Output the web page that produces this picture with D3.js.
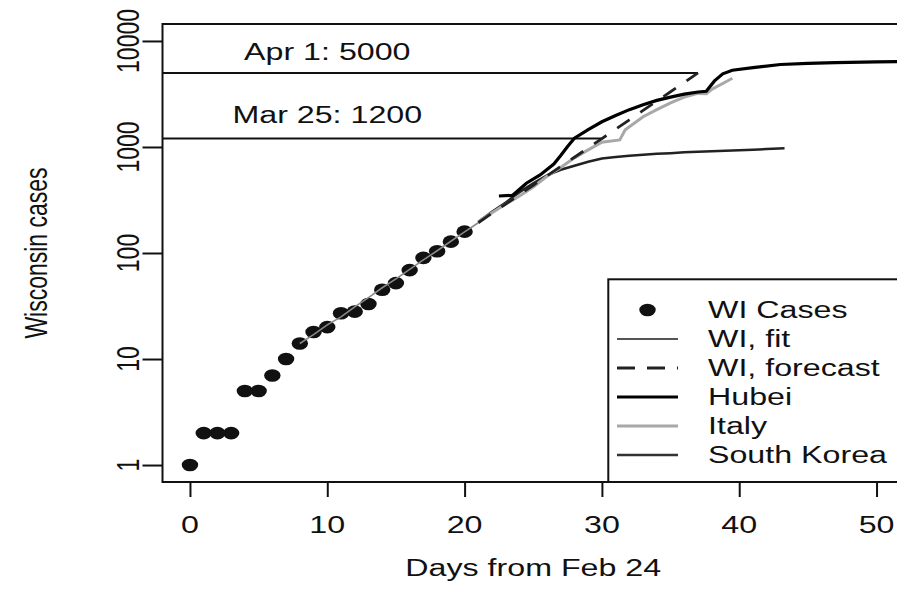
<!DOCTYPE html>
<html><head><meta charset="utf-8">
<script src="https://cdn.jsdelivr.net/npm/d3@7"></script>
<style>html,body{margin:0;padding:0;background:#fff;} svg{display:block;}</style>
</head><body>
<svg id="chart" width="897" height="598"></svg>
<script>
// ---------------- data ----------------
const caseDays   = [0,1,2,3,4,5,6,7,8,9,10,11,12,13,14,15,16,17,18,19,20];
const caseValues = [1,2,2,2,5,5,7,10,14,18,20,27,28,33,45,52,69,90,104,128,159];

const fitDays   = [8,9,10,11,12,13,14,15,16,17,18,19,20,21];
const fitValues = [14,17,21,25,31,38,47,57,70,86,105,129,158,193];

const forecastDays   = [21,22,23,24,25,26,27,28,29,30,31,32,33,34,35,36,37];
const forecastValues = [193,237,290,355,435,535,655,800,980,1200,1470,1800,2210,2710,3320,4070,5000];

const hubeiDays   = [22.5,23.5,24.5,25.5,26.5,27,27.5,28,29,30,31,32,33,34,35,36,37,37.6,38.2,38.8,39.5,41,43,45,47,50,53];
const hubeiValues = [345,350,455,545,690,830,1010,1210,1460,1730,1980,2250,2500,2750,2950,3150,3300,3350,4200,4900,5300,5600,6000,6150,6250,6350,6420];

const italyDays   = [21,22,23,24,25,26,27,28,29,30,31.3,31.7,33,34,35,36,37,37.6,38,39,39.5];
const italyValues = [197,240,290,345,420,530,640,790,940,1110,1165,1450,1930,2250,2600,2950,3200,3180,3500,4100,4450];

const koreaDays   = [21,22,23,24,25,26,27,28,29,30,31,32,33,34,35,36,37,38,39,40,41,42,43.3];
const koreaValues = [197,245,300,375,455,540,610,665,725,780,805,825,845,862,875,890,900,910,920,932,942,955,972];

const refValues  = [5000, 1200];
const refEndDays = [37, 30];
const noteDays   = [10, 10];
const noteValues = [8000, 2000];
const noteLabels = ["Apr 1: 5000", "Mar 25: 1200"];

const xTicks = [0,10,20,30,40,50];
const yTicks = [1,10,100,1000,10000];
const yTickLabels = ["1","10","100","1000","10000"];
const legendLabels = ["WI Cases","WI, fit","WI, forecast","Hubei","Italy","South Korea"];
const xTitle = "Days from Feb 24";
const yTitle = "Wisconsin cases";

// ---------------- layout ----------------
const FONT = "'Liberation Sans', Arial, Helvetica, sans-serif";
const FS = 23, SX = 1.4;
const P = {left:162.5, right:904, top:24, bottom:482};

const svg = d3.select("#chart");
svg.append("rect").attr("width",897).attr("height",598).attr("fill","#fff");

const x = d3.scaleLinear().domain([-2,52]).range([P.left, P.right]);
const y = d3.scaleLog().domain([Math.pow(10,-0.16), Math.pow(10,4.16)]).range([P.bottom, P.top]);

svg.append("clipPath").attr("id","clip").append("rect")
  .attr("x",P.left).attr("y",P.top).attr("width",P.right-P.left).attr("height",P.bottom-P.top);

function sText(parent, px, py, str, anchor, rot) {
  const t = parent.append("text")
    .attr("transform", `translate(${px},${py}) scale(${SX},1)` + (rot ? " rotate(-90)" : ""))
    .attr("text-anchor", anchor || "middle")
    .attr("dy","0.36em")
    .attr("font-family", FONT).attr("font-size", FS).attr("fill","#111")
    .text(str);
  return t;
}

const plotG = svg.append("g").attr("clip-path","url(#clip)");

// reference lines
refValues.forEach((v,i) => {
  plotG.append("line")
    .attr("x1", x(-2)).attr("x2", x(refEndDays[i]))
    .attr("y1", y(v)).attr("y2", y(v))
    .attr("stroke","#111").attr("stroke-width",2);
});
noteLabels.forEach((s,i) => sText(svg, x(noteDays[i]), y(noteValues[i]), s, "middle"));

const line = d3.line().x(d => x(d[0])).y(d => y(d[1]));
const zip = (a,b) => a.map((d,i) => [d, b[i]]);

plotG.append("path").datum(zip(koreaDays,koreaValues)).attr("d",line)
  .attr("fill","none").attr("stroke","#222").attr("stroke-width",2.5);
plotG.append("path").datum(zip(italyDays,italyValues)).attr("d",line)
  .attr("fill","none").attr("stroke","#a8a8a8").attr("stroke-width",3);
plotG.append("path").datum(zip(hubeiDays,hubeiValues)).attr("d",line)
  .attr("fill","none").attr("stroke","#000").attr("stroke-width",3.2);
plotG.append("path").datum(zip(forecastDays,forecastValues)).attr("d",line)
  .attr("fill","none").attr("stroke","#222").attr("stroke-width",2.8).attr("stroke-dasharray","15,13");

// points
plotG.selectAll("ellipse.pt").data(zip(caseDays,caseValues)).join("ellipse")
  .attr("class","pt").attr("cx",d=>x(d[0])).attr("cy",d=>y(d[1]))
  .attr("rx",8.2).attr("ry",6.3).attr("fill","#111");

plotG.append("path").datum(zip(fitDays,fitValues)).attr("d",line)
  .attr("fill","none").attr("stroke","#888").attr("stroke-width",1.6);

// axes
const xAxis = d3.axisBottom(x).tickValues(xTicks).tickSize(15).tickSizeOuter(0).tickFormat(()=>"");
const gx = svg.append("g").attr("transform",`translate(0,${P.bottom})`).call(xAxis);
gx.select(".domain").remove();
gx.selectAll(".tick line").attr("stroke","#111").attr("stroke-width",2);
xTicks.forEach(t => sText(svg, x(t), 525, String(t), "middle"));

const yAxis = d3.axisLeft(y).tickValues(yTicks).tickSize(20).tickSizeOuter(0).tickFormat(()=>"");
const gy = svg.append("g").attr("transform",`translate(${P.left},0)`).call(yAxis);
gy.select(".domain").remove();
gy.selectAll(".tick line").attr("stroke","#111").attr("stroke-width",2);
yTicks.forEach((t,i) => sText(svg, 127, y(t), yTickLabels[i], "middle", true));

sText(svg, (P.left+P.right)/2, 568, xTitle, "middle");
sText(svg, 35, (P.top+P.bottom)/2, yTitle, "middle", true);

// box
svg.append("rect").attr("x",P.left).attr("y",P.top)
  .attr("width",P.right-P.left).attr("height",P.bottom-P.top)
  .attr("fill","none").attr("stroke","#111").attr("stroke-width",2);

// legend
const L = {left:608.3, top:279.3};
svg.append("rect").attr("x",L.left).attr("y",L.top)
  .attr("width",P.right-L.left).attr("height",P.bottom-L.top)
  .attr("fill","#fff").attr("stroke","#111").attr("stroke-width",2);
const rowY = i => 310 + i*29;
const lx1 = 617, lx2 = 678;
svg.append("ellipse").attr("cx",(lx1+lx2)/2).attr("cy",rowY(0)).attr("rx",8.2).attr("ry",6.3).attr("fill","#111");
const legStyles = [null,
  {c:"#555", w:1.8, d:null},
  {c:"#222", w:2.8, d:"18,12"},
  {c:"#000", w:3.2, d:null},
  {c:"#a8a8a8", w:3, d:null},
  {c:"#333", w:2.5, d:null}];
legStyles.forEach((s,i) => {
  if (!s) return;
  const l = svg.append("line").attr("x1",lx1).attr("x2",lx2).attr("y1",rowY(i)).attr("y2",rowY(i))
    .attr("stroke",s.c).attr("stroke-width",s.w);
  if (s.d) l.attr("stroke-dasharray",s.d);
});
legendLabels.forEach((s,i) => sText(svg, 708, rowY(i), s, "start"));
</script>
</body></html>
